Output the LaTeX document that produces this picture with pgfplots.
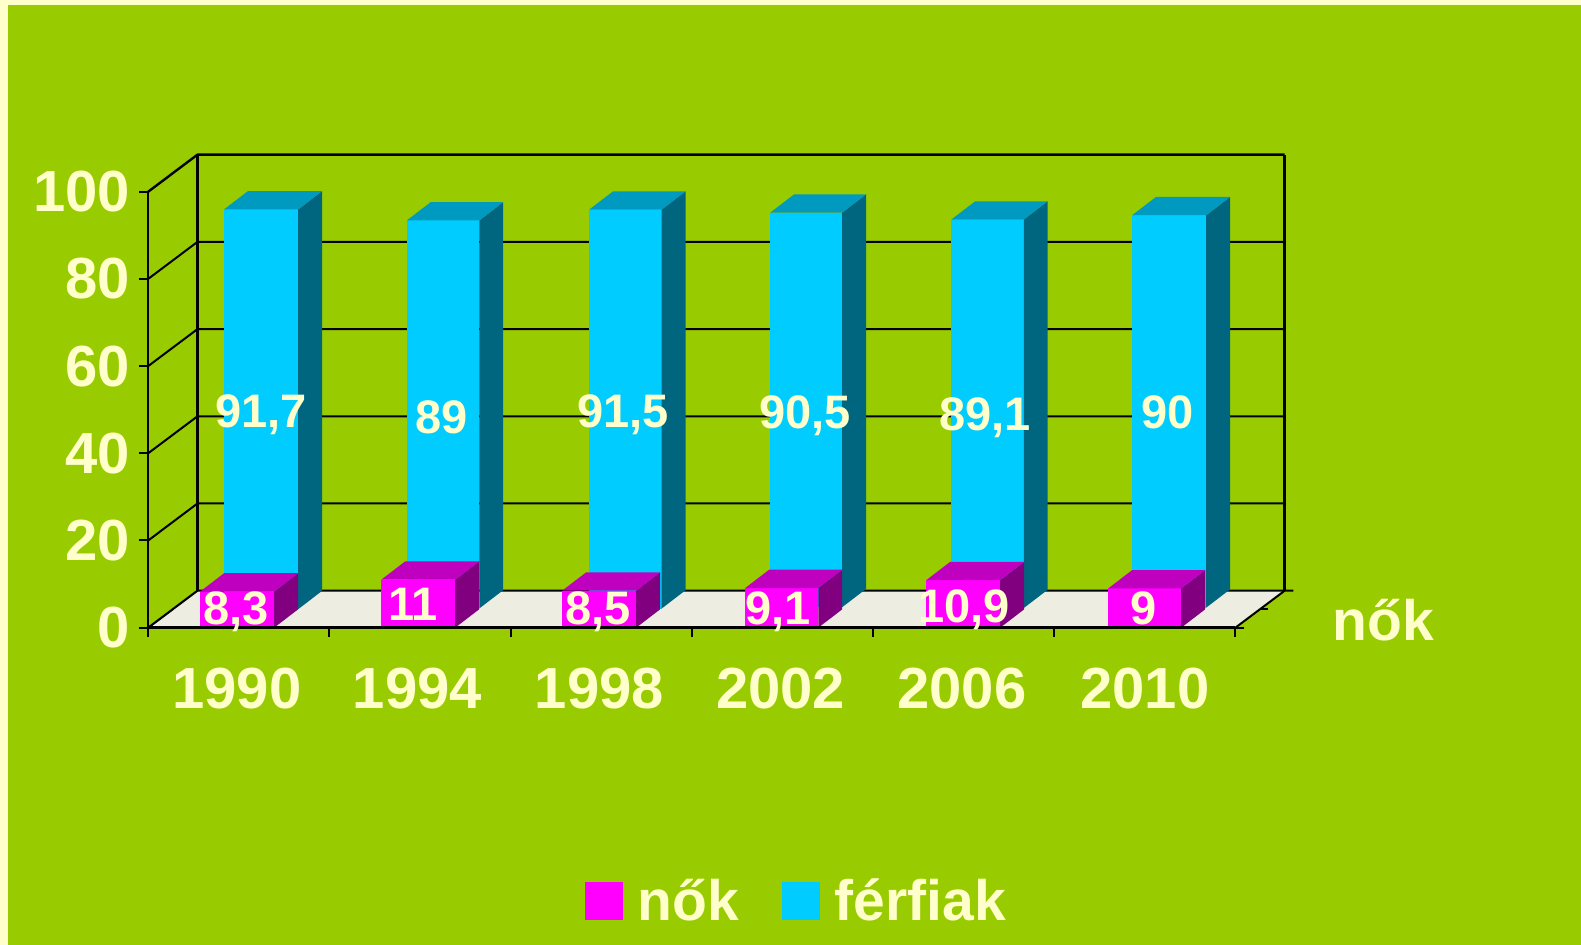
\documentclass[border=0pt]{standalone}
\usepackage{fontspec}
\setmainfont{Liberation Sans}
\usepackage{pgfplots}
\pgfplotsset{compat=1.18}
\definecolor{bg}{HTML}{99CC00}
\definecolor{cream}{HTML}{FFFFCC}
\definecolor{mag}{HTML}{FF00FF}
\definecolor{magside}{HTML}{800080}
\definecolor{magtop}{HTML}{BF00BF}
\definecolor{cy}{HTML}{00CCFF}
\definecolor{cyside}{HTML}{006680}
\definecolor{cytop}{HTML}{0099BF}
\definecolor{floorc}{HTML}{EEEDE1}
\newcommand{\bigfont}{\fontsize{29}{31}\selectfont\bfseries}
\newcommand{\legfont}{\fontsize{28.5}{31}\selectfont\bfseries}
\newcommand{\valfont}{\fontsize{23.5}{25}\selectfont\bfseries}
% left, right, base, value, front, side, top
\newcommand{\threedbar}[7]{%
  \pgfmathsetmacro\ya{#3}%
  \pgfmathsetmacro\yb{#3+#4}%
  \pgfmathsetmacro\yc{#3+#4+4.2}%
  \pgfmathsetmacro\yd{#3+4.2}%
  \pgfmathsetmacro\xc{#2+0.132}%
  \pgfmathsetmacro\xd{#1+0.132}%
  \addplot[forget plot,fill=#5,draw=none] coordinates {(#1,\ya)(#2,\ya)(#2,\yb)(#1,\yb)} --cycle;
  \addplot[forget plot,fill=#6,draw=none] coordinates {(#2,\ya)(\xc,\yd)(\xc,\yc)(#2,\yb)} --cycle;
  \addplot[forget plot,fill=#7,draw=none] coordinates {(#1,\yb)(#2,\yb)(\xc,\yc)(\xd,\yc)} --cycle;
}
\begin{document}
\begin{tikzpicture}
\fill[cream] (0pt,0pt) rectangle (790.5pt,472.5pt);
\fill[bg] (4pt,0pt) rectangle (790.5pt,470pt);
\begin{axis}[
  at={(74.1pt,158.65pt)},anchor=south west,
  scale only axis,width=543.6pt,height=218pt,
  xmin=0,xmax=6,ymin=0,ymax=100,
  clip=false,axis on top,
  axis x line*=bottom,axis y line*=left,
  axis line style={-,black,line width=1.25pt},
  xtick={0.49,1.485,2.49,3.49,4.49,5.5},
  xticklabels={1990,1994,1998,2002,2006,2010},
  minor xtick={0,1,2,3,4,5,6},
  ytick={0,20,40,60,80,100},
  major tick length=4.5pt,minor tick length=4.5pt,
  tick align=outside,
  major x tick style={draw=none},
  minor x tick style={black,line width=1pt},
  ytick style={black,line width=1pt},
  xticklabel style={font=\bigfont,text=cream,inner sep=0pt,yshift=-15.5pt},
  yticklabel style={font=\bigfont,text=cream,inner sep=0pt,xshift=-4.5pt},
  /pgf/number format/assume math mode=true,
  /pgf/number format/1000 sep={},
  legend columns=2,
  legend style={at={(0.597,-0.627)},anchor=center,draw=none,fill=none,
    font=\legfont,text=cream,inner sep=0pt,
    /tikz/every even column/.append style={column sep=19.5pt}},
]
% floor
\addplot[forget plot,fill=floorc,draw=none] coordinates {(0,0)(6,0)(6.272,8.49)(0.272,8.49)} --cycle;
% back wall and side wall lines
\addplot[forget plot,black,line width=1.05pt] coordinates {(0,0)(0.272,8.49)(6.32,8.49)};
\addplot[forget plot,black,line width=1pt] coordinates {(0,20)(0.272,28.49)(6.272,28.49)};
\addplot[forget plot,black,line width=1pt] coordinates {(0,40)(0.272,48.49)(6.272,48.49)};
\addplot[forget plot,black,line width=1pt] coordinates {(0,60)(0.272,68.49)(6.272,68.49)};
\addplot[forget plot,black,line width=1pt] coordinates {(0,80)(0.272,88.49)(6.272,88.49)};
\addplot[forget plot,black,line width=1.2pt] coordinates {(0,100)(0.272,108.49)(6.272,108.49)};
\addplot[forget plot,black,line width=1.2pt] coordinates {(0.272,8.49)(0.272,108.49)};
\addplot[forget plot,black,line width=1.2pt] coordinates {(6.272,8.49)(6.272,108.49)};
\addplot[forget plot,black,line width=1pt] coordinates {(6,0)(6.272,8.49)};
\addplot[forget plot,black,line width=1pt] coordinates {(6,0)(6.05,0)};
\addplot[forget plot,black,line width=1pt] coordinates {(6.136,4.25)(6.18,4.25)};
% men, rear row
\threedbar{0.419}{0.828}{4.25}{91.7}{cy}{cyside}{cytop}
\threedbar{1.427}{1.827}{4.4}{89}{cy}{cyside}{cytop}
\threedbar{2.434}{2.834}{4.4}{91.5}{cy}{cyside}{cytop}
\threedbar{3.433}{3.830}{4.7}{90.5}{cy}{cyside}{cytop}
\threedbar{4.432}{4.832}{4.5}{89.1}{cy}{cyside}{cytop}
\threedbar{5.430}{5.839}{4.6}{90}{cy}{cyside}{cytop}
% women, front row
\threedbar{0.287}{0.695}{0}{8.3}{mag}{magside}{magtop}
\threedbar{1.286}{1.694}{0}{11}{mag}{magside}{magtop}
\threedbar{2.285}{2.693}{0}{8.5}{mag}{magside}{magtop}
\threedbar{3.295}{3.698}{0}{9.1}{mag}{magside}{magtop}
\threedbar{4.294}{4.702}{0}{10.9}{mag}{magside}{magtop}
\threedbar{5.298}{5.701}{0}{9}{mag}{magside}{magtop}
% value labels
\addplot[forget plot,draw=none,mark=none,point meta=explicit symbolic,
  nodes near coords,
  every node near coord/.style={font=\valfont,text=cream,anchor=base,inner sep=0pt}]
  table[meta=label] {
x y label
0.624 46.0 91,7
1.620 44.5 89
2.621 46.0 91,5
3.624 45.6 90,5
4.619 45.3 89,1
5.627 45.6 90
0.486 0.62 8,3
1.461 1.54 11
2.483 0.62 8,5
3.474 0.62 9,1
4.503 1.08 10,9
5.491 0.62 9
};
\node[font=\legfont,text=cream,anchor=base,inner sep=0pt] at (axis cs:6.816,-3.05) {nők};
% legend
\addlegendimage{legend image code/.code={\fill[mag] (0pt,-9.25pt) rectangle (18.5pt,9.25pt);}}
\addlegendentry{\hspace{5.5pt}nők}
\addlegendimage{legend image code/.code={\fill[cy] (0pt,-9.25pt) rectangle (18.5pt,9.25pt);}}
\addlegendentry{\hspace{5.5pt}férfiak}
\end{axis}
\end{tikzpicture}
\end{document}
